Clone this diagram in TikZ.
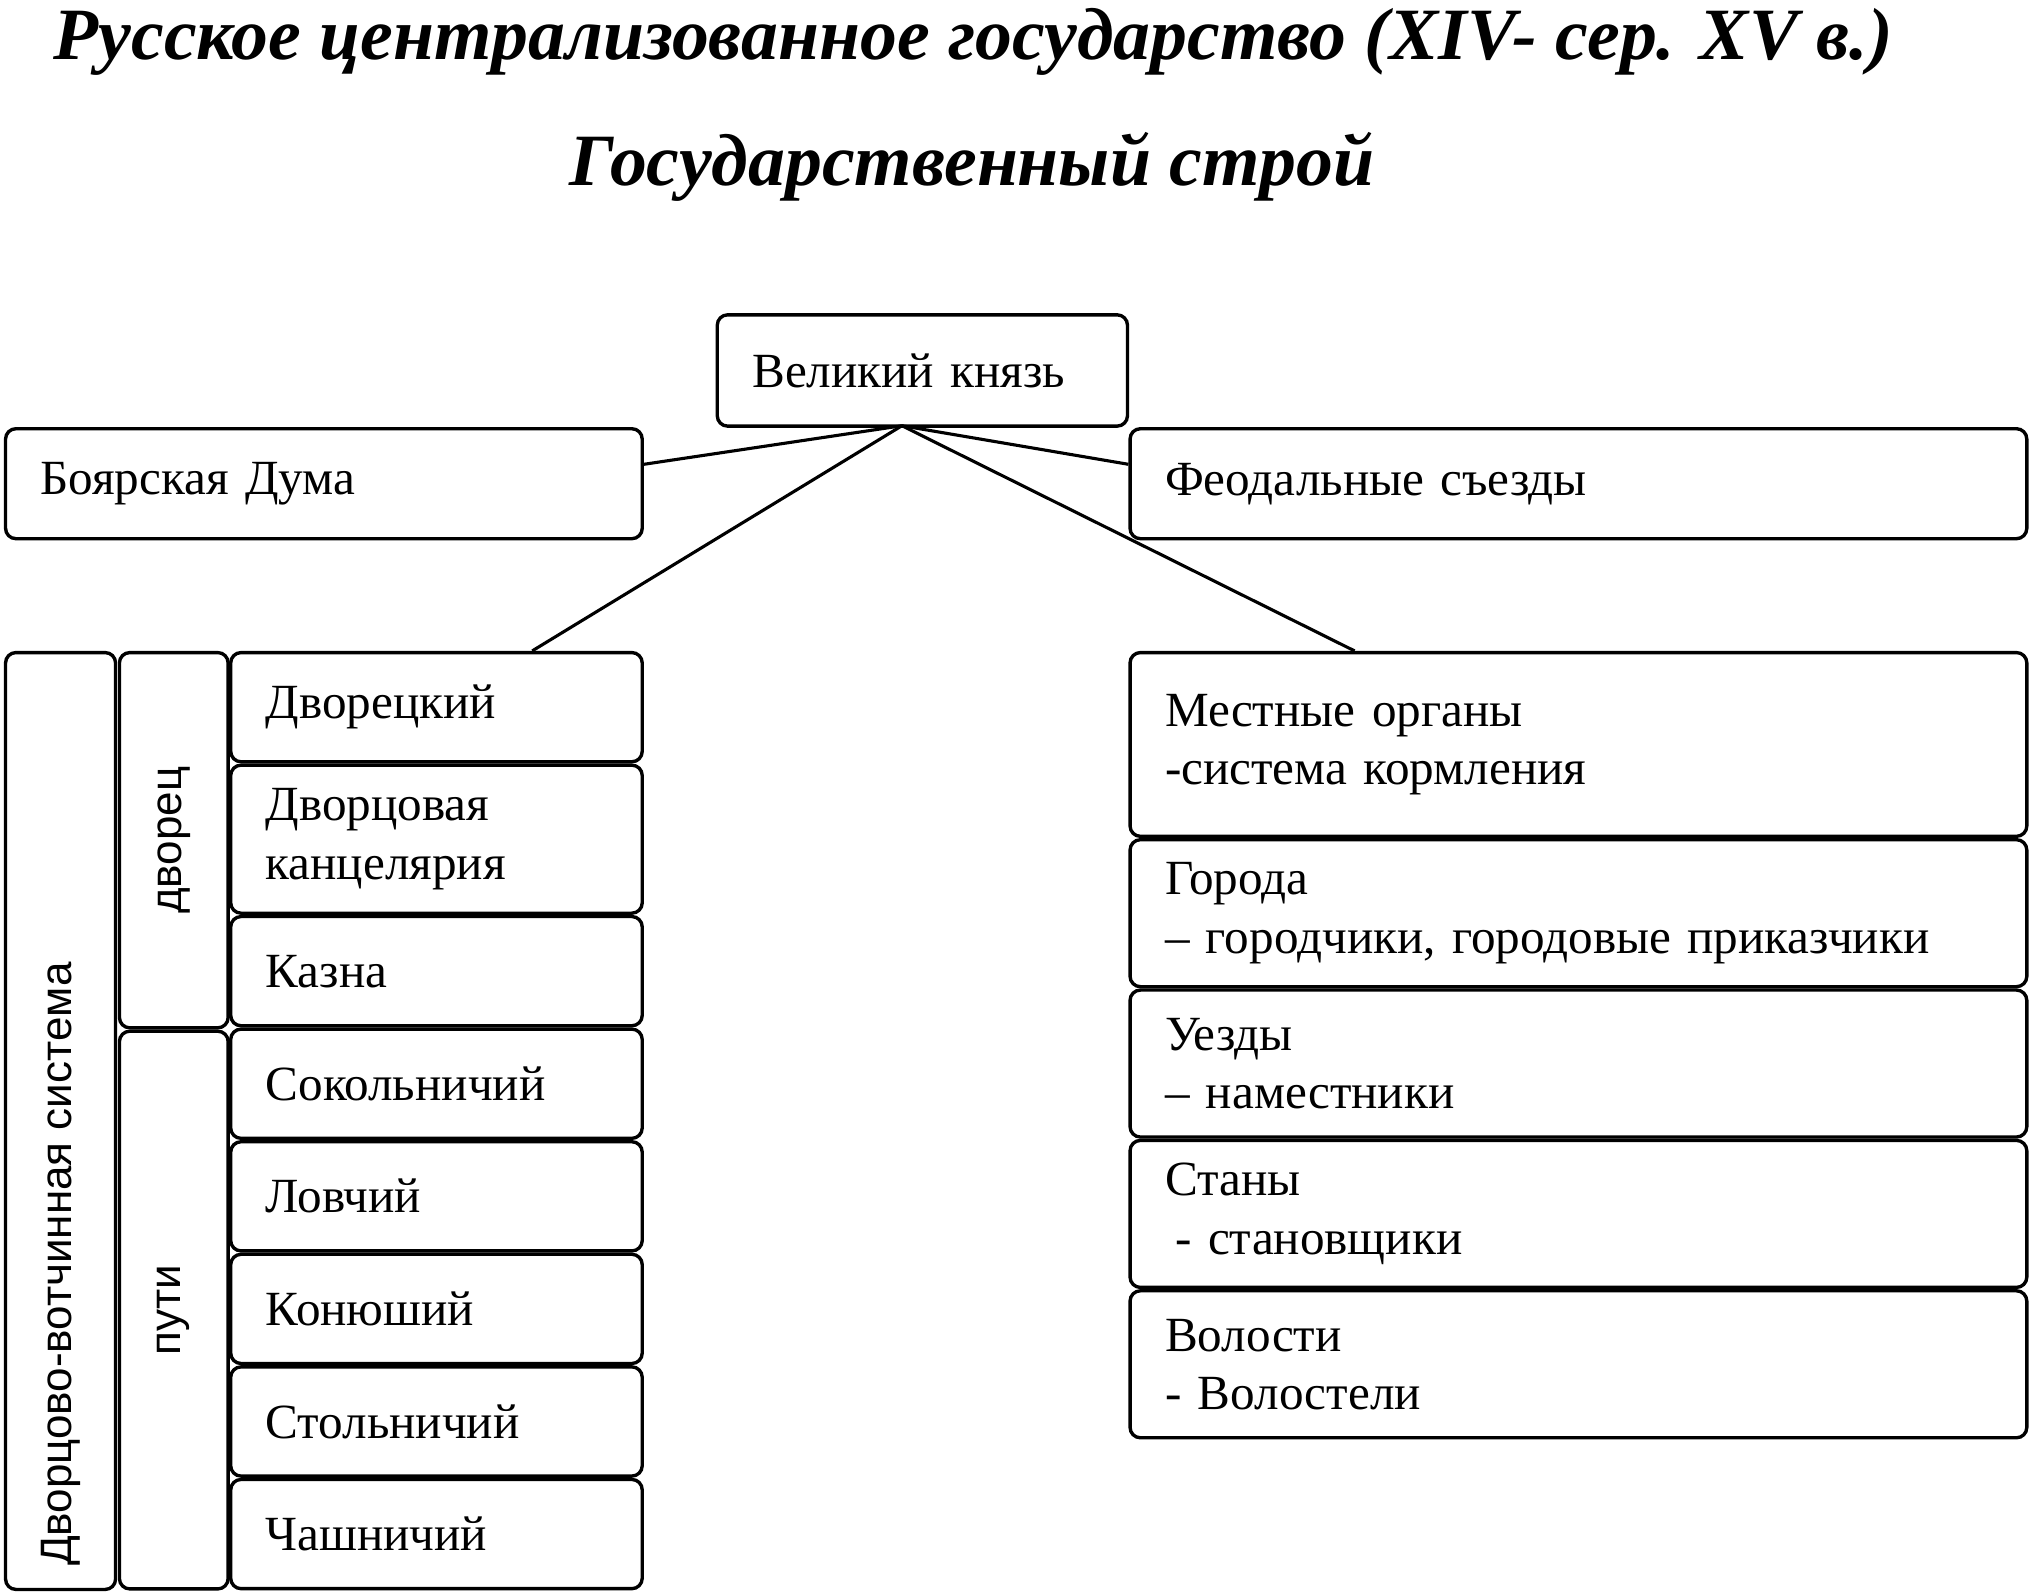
\documentclass[tikz,border=0pt]{standalone}
\usepackage{fontspec}
\setmainfont{Liberation Serif}
\setsansfont{Liberation Sans}
\usetikzlibrary{positioning}
\tikzset{
  cell/.style={draw, rounded corners=8pt, line width=2.6pt, anchor=north west,
    align=left, inner xsep=27pt, inner ysep=0pt, font=\fontsize{38}{45}\selectfont},
  leftcell/.style={cell, minimum width=318pt, text width=264pt, minimum height=84.4pt},
  rightcell/.style={cell, minimum width=693pt, text width=639pt, minimum height=113.6pt},
  side/.style={draw, rounded corners=8pt, line width=2.6pt, anchor=north west, inner sep=0pt},
  vtext/.style={rotate=90, font=\sffamily\fontsize{34}{40}\selectfont},
  link/.style={line width=2.4pt},
  heading/.style={font=\bfseries\itshape\fontsize{57}{66}\selectfont}}

\begin{document}
\begin{tikzpicture}[x=1pt, y=-1pt]
  \useasboundingbox (0,0) rectangle (1568,1231);
  % headings
  \node[heading] (title) at (752,32) {Русское централизованное государство (XIV- сер. XV в.)};
  \node[heading] (subtitle) at (751,129) {Государственный строй};

  % top level
  \node[cell, minimum width=317pt, text width=263pt, minimum height=86pt] (vk) at (553,242) {Великий князь};
  \node[cell, minimum width=492pt, text width=438pt, minimum height=85pt] (bd) at (3,330) {Боярская Дума};
  \node[cell, minimum width=693pt, text width=639pt, minimum height=85pt] (fs) at (872,330) {Феодальные съезды};

  % palace offices
  \node[leftcell] (dv) at (177,503) {Дворецкий};
  \node[leftcell, minimum height=114.4pt, below=0pt of dv] (kanc) {Дворцовая\\канцелярия};
  \node[leftcell, below=0pt of kanc] (kazna) {Казна};
  \node[leftcell, below=0pt of kazna] (sokol) {Сокольничий};
  \node[leftcell, below=0pt of sokol] (lov) {Ловчий};
  \node[leftcell, below=0pt of lov] (kon) {Конюший};
  \node[leftcell, below=0pt of kon] (stol) {Стольничий};
  \node[leftcell, below=0pt of stol] (chash) {Чашничий};

  % side columns
  \node[side, minimum width=85pt, minimum height=724pt] (sys) at (3,503) {};
  \node[side, minimum width=84pt, minimum height=290pt] (dvorec) at (91,503) {};
  \node[side, minimum width=84pt, minimum height=431pt, below=0pt of dvorec] (puti) {};
  \node[vtext] (dvorec-l) at (dvorec.center) {дворец};
  \node[vtext] (puti-l) at (puti.center) {пути};
  \node[vtext, anchor=west] (sys-l) at ([yshift=16pt]sys.south) {Дворцово-вотчинная система};

  % local bodies
  \node[rightcell, minimum height=142pt] (mo) at (872,503) {Местные органы\\-система кормления};
  \node[rightcell, below=0pt of mo] (gor) {Города\\– городчики, городовые приказчики};
  \node[rightcell, below=0pt of gor] (uezd) {Уезды\\– наместники};
  \node[rightcell, below=0pt of uezd] (stan) {Станы\\\hspace*{8pt}- становщики};
  \node[rightcell, below=0pt of stan] (vol) {Волости\\- Волостели};

  % links
  \coordinate (hub) at (697,329);
  \draw[link] (hub) -- ([yshift=15pt]bd.east);
  \draw[link] (hub) -- ([yshift=15pt]fs.west);
  \draw[link] (hub) -- ([xshift=74pt]dv.north);
  \draw[link] (hub) -- ([xshift=-173pt]mo.north);
\end{tikzpicture}
\end{document}
